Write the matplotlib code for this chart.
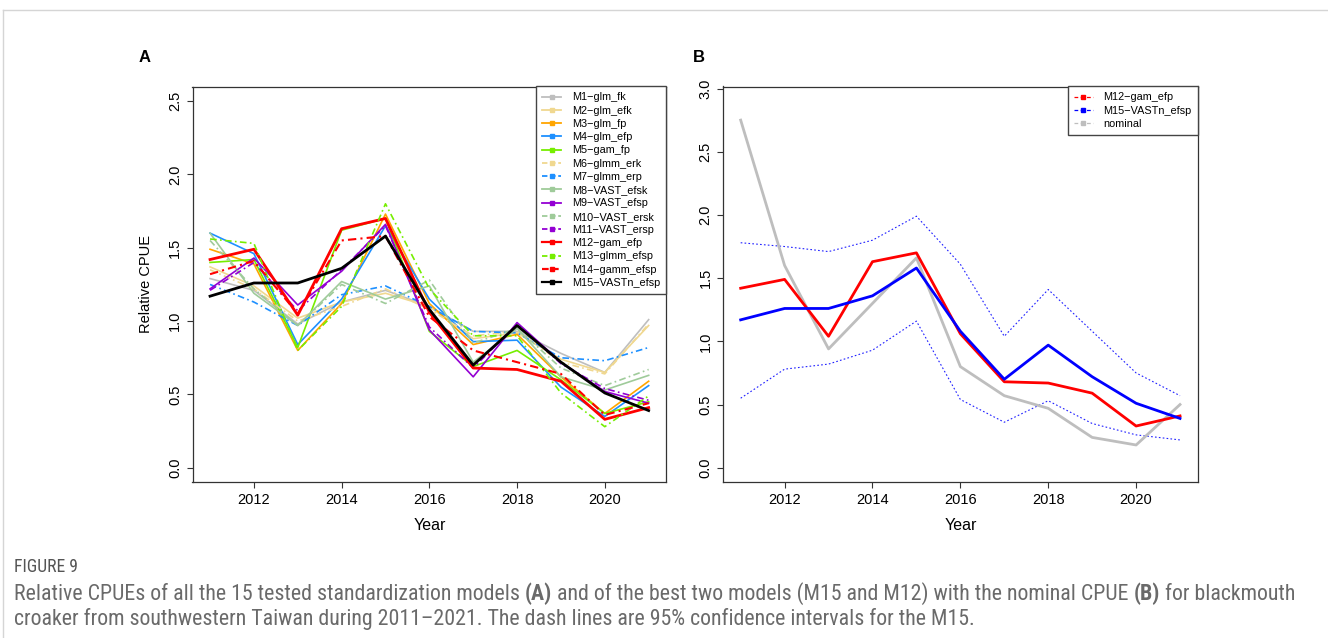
import matplotlib
matplotlib.use("Agg")
import matplotlib.pyplot as plt
from matplotlib import font_manager
from matplotlib.lines import Line2D

# ---- data ----
years = [2011, 2012, 2013, 2014, 2015, 2016, 2017, 2018, 2019, 2020, 2021]

labels_a = ["M1−glm_fk", "M2−glm_efk", "M3−glm_fp", "M4−glm_efp", "M5−gam_fp",
            "M6−glmm_erk", "M7−glmm_erp", "M8−VAST_efsk", "M9−VAST_efsp",
            "M10−VAST_ersk", "M11−VAST_ersp", "M12−gam_efp", "M13−glmm_efsp",
            "M14−gamm_efsp", "M15−VASTn_efsp"]

m1 = [1.29, 1.21, 0.98, 1.13, 1.21, 1.10, 0.93, 0.93, 0.78, 0.65, 1.01]
m2 = [1.37, 1.24, 1.02, 1.13, 1.19, 1.10, 0.88, 0.92, 0.74, 0.65, 0.97]
m3 = [1.49, 1.39, 0.80, 1.12, 1.73, 1.12, 0.84, 0.91, 0.62, 0.37, 0.59]
m4 = [1.60, 1.46, 0.84, 1.15, 1.65, 1.15, 0.86, 0.87, 0.55, 0.35, 0.56]
m5 = [1.40, 1.42, 0.82, 1.62, 1.70, 0.93, 0.69, 0.80, 0.60, 0.37, 0.45]
m6 = [1.35, 1.22, 1.00, 1.10, 1.22, 1.08, 0.90, 0.93, 0.72, 0.64, 0.98]
m7 = [1.25, 1.13, 0.97, 1.18, 1.24, 1.10, 0.93, 0.92, 0.75, 0.73, 0.82]
m8 = [1.60, 1.19, 0.97, 1.27, 1.15, 1.24, 0.72, 0.95, 0.62, 0.53, 0.63]
m9 = [1.22, 1.43, 1.11, 1.34, 1.66, 0.94, 0.62, 0.99, 0.72, 0.52, 0.44]
m10 = [1.55, 1.22, 0.97, 1.25, 1.12, 1.28, 0.85, 0.95, 0.68, 0.56, 0.67]
m11 = [1.21, 1.40, 1.07, 1.35, 1.65, 0.96, 0.68, 0.98, 0.71, 0.54, 0.46]
m12 = [1.42, 1.49, 1.04, 1.63, 1.70, 1.06, 0.68, 0.67, 0.59, 0.33, 0.41]
m13 = [1.56, 1.53, 0.80, 1.10, 1.80, 1.22, 0.90, 0.90, 0.51, 0.28, 0.49]
m14 = [1.32, 1.41, 1.05, 1.55, 1.58, 1.03, 0.80, 0.72, 0.64, 0.36, 0.44]
m15 = [1.17, 1.26, 1.26, 1.36, 1.58, 1.08, 0.70, 0.97, 0.72, 0.51, 0.39]

nominal = [2.75, 1.60, 0.94, 1.30, 1.66, 0.80, 0.57, 0.47, 0.24, 0.18, 0.50]
m15_upper = [1.78, 1.75, 1.71, 1.80, 1.99, 1.61, 1.04, 1.41, 1.08, 0.75, 0.57]
m15_lower = [0.55, 0.78, 0.82, 0.93, 1.16, 0.54, 0.36, 0.53, 0.35, 0.26, 0.22]

labels_b = ["M12−gam_efp", "M15−VASTn_efsp", "nominal"]

# ---- styles ----
series_a = [m1, m2, m3, m4, m5, m6, m7, m8, m9, m10, m11, m12, m13, m14, m15]
colors_a = ["#BEBEBE", "#F0D890", "#FFA500", "#1E90FF", "#76EE00",
            "#F0D890", "#1E90FF", "#9FCB9A", "#9400D3",
            "#9FCB9A", "#9400D3", "#FF0000", "#76EE00",
            "#FF0000", "#000000"]
dashed_a = [False, False, False, False, False, True, True, False, False,
            True, True, False, True, True, False]
widths_a = [1.2] * 11 + [2.0, 1.2, 1.5, 2.0]

dash = (0, (4, 2, 1, 2))

W, H = 1328, 638
plt.rcParams['font.family'] = ['Liberation Sans', 'DejaVu Sans']

fig = plt.figure(figsize=(W / 100, H / 100), dpi=100)


def box(l, t, r, b):
    return [l / W, 1 - b / H, (r - l) / W, (b - t) / H]


axA = fig.add_axes(box(192.5, 86.5, 666.2, 482.4))
axB = fig.add_axes(box(723.1, 86.5, 1197.6, 482.4))

leg_kw = dict(loc="upper right", borderaxespad=0, fontsize=7.8, frameon=True,
              fancybox=False, edgecolor="#444444", framealpha=1,
              labelspacing=0.3, handlelength=1.75, handletextpad=1.0,
              borderpad=0.55, numpoints=1)

# panel A
handles = []
for vals, col, dsh, lw, lab in zip(series_a, colors_a, dashed_a, widths_a, labels_a):
    axA.plot(years, vals, color=col, lw=lw, ls=dash if dsh else "-")
    handles.append(Line2D([], [], color=col, lw=1.3 if lw < 1.5 else 1.6,
                          ls=(0, (3, 1.5)) if dsh else "-",
                          marker="s", markersize=3.5, label=lab))

leg = axA.legend(handles=handles, **leg_kw)
leg.get_frame().set_linewidth(1.0)

axA.set_ylim(-0.1, 2.6)
axA.set_yticks([0.0, 0.5, 1.0, 1.5, 2.0, 2.5])
axA.set_yticklabels(["0.0", "0.5", "1.0", "1.5", "2.0", "2.5"])
axA.set_ylabel("Relative CPUE", fontsize=10.5)
axA.yaxis.set_label_coords(-0.083, 0.5)

# panel B
axB.plot(years, m15_upper, color="#2020FF", lw=0.8, ls=(0, (1.5, 2)))
axB.plot(years, m15_lower, color="#2020FF", lw=0.8, ls=(0, (1.5, 2)))
axB.plot(years, nominal, color="#BEBEBE", lw=2.0)
axB.plot(years, m12, color="#FF0000", lw=2.0)
axB.plot(years, m15, color="#0000FF", lw=2.0)

handles_b = [Line2D([], [], color=c, lw=0.9, ls=(0, (3, 2)), marker="s",
                    markersize=3.5, label=l)
             for c, l in zip(["#FF0000", "#0000FF", "#BEBEBE"], labels_b)]
legb = axB.legend(handles=handles_b, **leg_kw)
legb.get_frame().set_linewidth(1.0)

axB.set_ylim(-0.116, 3.016)
axB.set_yticks([0.0, 0.5, 1.0, 1.5, 2.0, 2.5, 3.0])
axB.set_yticklabels(["0.0", "0.5", "1.0", "1.5", "2.0", "2.5", "3.0"])

for ax in (axA, axB):
    ax.set_xlim(2010.6, 2021.4)
    ax.set_xticks([2012, 2014, 2016, 2018, 2020])
    ax.set_xlabel("Year", fontsize=11.5)
    ax.xaxis.set_label_coords(0.5, -0.09)
    ax.tick_params(axis="both", direction="out", length=4.5, width=0.8,
                   labelsize=10.5, color="#333333", pad=3)
    ax.tick_params(axis="y", labelrotation=90)
    for t in ax.get_yticklabels():
        t.set_verticalalignment("center")
    for s in ax.spines.values():
        s.set_color("#333333")
        s.set_linewidth(0.9)

fig.text(145 / W, 1 - 57 / H, "A", fontsize=12, fontweight="bold", ha="center", va="center")
fig.text(699 / W, 1 - 57 / H, "B", fontsize=12, fontweight="bold", ha="center", va="center")

# page frame
fig.add_artist(Line2D([3 / W, 1], [1 - 10 / H, 1 - 10 / H], color="#d5d5d5", lw=1))
fig.add_artist(Line2D([3 / W, 3 / W], [0, 1 - 10 / H], color="#d5d5d5", lw=1))

# caption: pick a narrow face if there is one, then size it to the reference width
installed = {f.name for f in font_manager.fontManager.ttflist}
cap_face = "Open Sans"
for name in ["Liberation Sans Narrow", "DejaVu Sans Condensed", "Roboto Condensed"]:
    if name in installed:
        cap_face = name
        break
cap_font = [cap_face, "DejaVu Sans"]

renderer = fig.canvas.get_renderer()

line1 = [("Relative CPUEs of all the 15 tested standardization models ", "normal"),
         ("(A)", "bold"),
         (" and of the best two models (M15 and M12) with the nominal CPUE ", "normal"),
         ("(B)", "bold"),
         (" for blackmouth", "normal")]
line2 = [("croaker from southwestern Taiwan during 2011–2021. The dash lines are 95% "
          "confidence intervals for the M15.", "normal")]


def width_of(parts, size):
    w = 0
    for txt, weight in parts:
        t = fig.text(0, 0, txt, fontsize=size, family=cap_font, fontweight=weight)
        w += t.get_window_extent(renderer=renderer).width
        t.remove()
    return w


cap_size = 10 * 1278 / width_of(line1, 10)
fig_size = 10 * 64 / width_of([("FIGURE 9", "normal")], 10)


def rich_line(x, y, parts, size, color):
    for txt, weight in parts:
        t = fig.text(x / W, 1 - y / H, txt, fontsize=size, color=color,
                     family=cap_font, fontweight=weight, va="center")
        x += t.get_window_extent(renderer=renderer).width


rich_line(14, 567, [("FIGURE 9", "normal")], fig_size, "#555555")
rich_line(14, 594, line1, cap_size, "#6a6a6a")
rich_line(14, 619, line2, cap_size, "#6a6a6a")

fig.savefig("out.png", dpi=100)
